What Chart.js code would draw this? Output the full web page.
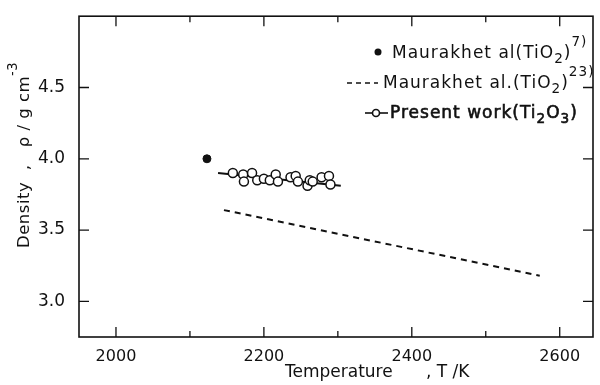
<!DOCTYPE html>
<html>
<head>
<meta charset="utf-8">
<script src="https://cdn.jsdelivr.net/npm/chart.js@4.4.0/dist/chart.umd.min.js"></script>
<style>
  html, body { margin: 0; padding: 0; background: #fff; }
  #wrap { width: 600px; height: 385px; }
</style>
</head>
<body>
<div id="wrap"><canvas id="densityChart" width="600" height="385"></canvas></div>
<script>
"use strict";

// data
var presentT   = [2158, 2172, 2173, 2184, 2191, 2200, 2208, 2216, 2219, 2236, 2243, 2246, 2259, 2262, 2266, 2278, 2288, 2290];
var presentRho = [3.90, 3.89, 3.84, 3.90, 3.85, 3.86, 3.85, 3.89, 3.84, 3.87, 3.88, 3.84, 3.81, 3.85, 3.84, 3.87, 3.88, 3.82];
var presentFitT   = [2138, 2304];
var presentFitRho = [3.90, 3.81];
var maurakhDotT   = [2123];
var maurakhDotRho = [4.00];
var maurakhDashT   = [2146, 2573];
var maurakhDashRho = [3.64, 3.18];
var xTicks = [2000, 2100, 2200, 2300, 2400, 2500, 2600];
var yTicks = [3.0, 3.5, 4.0, 4.5];

var FONT = "'DejaVu Sans', sans-serif";
var INK = "#111";

function pts(xs, ys) {
    return xs.map(function (x, i) { return { x: x, y: ys[i] }; });
}

// text with sub / superscripts, left aligned at x, baseline y
function partSize(p, size) {
    return p[1] === "n" ? size : size * 0.8;
}
function richText(ctx, x, y, parts, size, bold) {
    var cx = x;
    parts.forEach(function (p) {
        var s = partSize(p, size);
        var dy = p[1] === "sub" ? size * 0.3 : (p[1] === "sup" ? -size * 0.7 : 0);
        ctx.font = s + "px " + FONT;
        ctx.fillText(p[0], cx, y + dy);
        if (bold) { ctx.lineWidth = 0.6; ctx.strokeText(p[0], cx, y + dy); }
        cx += ctx.measureText(p[0]).width;
    });
    return cx - x;
}

var decor = {
    id: "decor",
    afterDraw: function (chart) {
        var ctx = chart.ctx, a = chart.chartArea;
        var xs = chart.scales.x, ys = chart.scales.y;
        ctx.save();
        ctx.strokeStyle = INK;
        ctx.fillStyle = INK;
        ctx.lineWidth = 1.6;
        ctx.strokeRect(a.left, a.top, a.right - a.left, a.bottom - a.top);

        // inward ticks on all four sides
        ctx.lineWidth = 1.3;
        ctx.beginPath();
        xTicks.forEach(function (v) {
            var px = xs.getPixelForValue(v);
            var len = v % 200 === 0 ? 10 : 6;
            ctx.moveTo(px, a.bottom); ctx.lineTo(px, a.bottom - len);
            ctx.moveTo(px, a.top); ctx.lineTo(px, a.top + len);
        });
        yTicks.forEach(function (v) {
            var py = ys.getPixelForValue(v);
            ctx.moveTo(a.left, py); ctx.lineTo(a.left + 10, py);
            ctx.moveTo(a.right, py); ctx.lineTo(a.right - 10, py);
        });
        ctx.stroke();

        // axis titles
        ctx.textBaseline = "alphabetic";
        ctx.textAlign = "left";
        richText(ctx, 285, 377, [["Temperature", "n"]], 17);
        richText(ctx, 426, 377, [[", T /K", "n"]], 17);

        ctx.save();
        ctx.translate(29, 248);
        ctx.rotate(-Math.PI / 2);
        ctx.letterSpacing = "0.5px";
        richText(ctx, 0, 0, [["Density  ,   ρ / g cm", "n"], ["-3", "sup"]], 16.5);
        ctx.letterSpacing = "0px";
        ctx.restore();

        // legend
        ctx.beginPath();
        ctx.arc(378, 52, 3.5, 0, Math.PI * 2);
        ctx.fill();
        ctx.letterSpacing = "1px";
        richText(ctx, 392, 58, [["Maurakhet al(TiO", "n"], ["2", "sub"], [")", "n"], ["7)", "sup"]], 17);

        ctx.lineWidth = 1.6;
        ctx.setLineDash([5, 4]);
        ctx.beginPath();
        ctx.moveTo(347, 83); ctx.lineTo(378, 83);
        ctx.stroke();
        ctx.setLineDash([]);
        richText(ctx, 383, 88, [["Maurakhet al.(TiO", "n"], ["2", "sub"], [")", "n"], ["23)", "sup"]], 17);

        ctx.lineWidth = 1.6;
        ctx.beginPath();
        ctx.moveTo(365, 113); ctx.lineTo(388, 113);
        ctx.stroke();
        ctx.beginPath();
        ctx.arc(376, 113, 3.5, 0, Math.PI * 2);
        ctx.fillStyle = "#fff";
        ctx.fill();
        ctx.stroke();
        ctx.fillStyle = INK;
        richText(ctx, 390, 118, [["Present work(Ti", "n"], ["2", "sub"], ["O", "n"], ["3", "sub"], [")", "n"]], 17, true);
        ctx.letterSpacing = "0px";
        ctx.restore();
    }
};

var chart = new Chart(document.getElementById("densityChart"), {
    type: "scatter",
    data: {
        datasets: [
            {
                label: "Present work (Ti2O3)",
                data: pts(presentT, presentRho),
                pointRadius: 4.5,
                pointBackgroundColor: "#fff",
                pointBorderColor: INK,
                pointBorderWidth: 1.5,
                showLine: false
            },
            {
                label: "Present work fit",
                data: pts(presentFitT, presentFitRho),
                showLine: true,
                borderColor: INK,
                borderWidth: 2,
                pointRadius: 0
            },
            {
                label: "Maurakh et al. (TiO2) 23)",
                data: pts(maurakhDashT, maurakhDashRho),
                showLine: true,
                borderColor: INK,
                borderWidth: 2,
                borderDash: [6, 5],
                pointRadius: 0
            },
            {
                label: "Maurakh et al (TiO2) 7)",
                data: pts(maurakhDotT, maurakhDotRho),
                pointRadius: 4,
                pointBackgroundColor: INK,
                pointBorderColor: INK,
                showLine: false
            }
        ]
    },
    options: {
        responsive: false,
        animation: false,
        layout: { padding: { top: 12, right: 7, left: 0, bottom: 0 } },
        plugins: { legend: { display: false }, tooltip: { enabled: false } },
        scales: {
            x: {
                type: "linear",
                min: 1950,
                max: 2645,
                grid: { display: false },
                border: { display: false },
                afterBuildTicks: function (s) { s.ticks = xTicks.map(function (v) { return { value: v }; }); },
                afterFit: function (s) { s.height = 48; },
                ticks: {
                    padding: 2,
                    color: INK,
                    maxRotation: 0,
                    autoSkip: false,
                    font: { family: FONT, size: 16 },
                    callback: function (v) { return v % 200 === 0 ? String(v) : ""; }
                }
            },
            y: {
                type: "linear",
                min: 2.75,
                max: 5.0,
                grid: { display: false },
                border: { display: false },
                afterBuildTicks: function (s) { s.ticks = yTicks.map(function (v) { return { value: v }; }); },
                afterFit: function (s) { s.width = 79; },
                ticks: {
                    padding: 6,
                    color: INK,
                    font: { family: FONT, size: 17 },
                    callback: function (v) { return Number(v).toFixed(1); }
                }
            }
        }
    },
    plugins: [decor]
});
</script>
</body>
</html>
